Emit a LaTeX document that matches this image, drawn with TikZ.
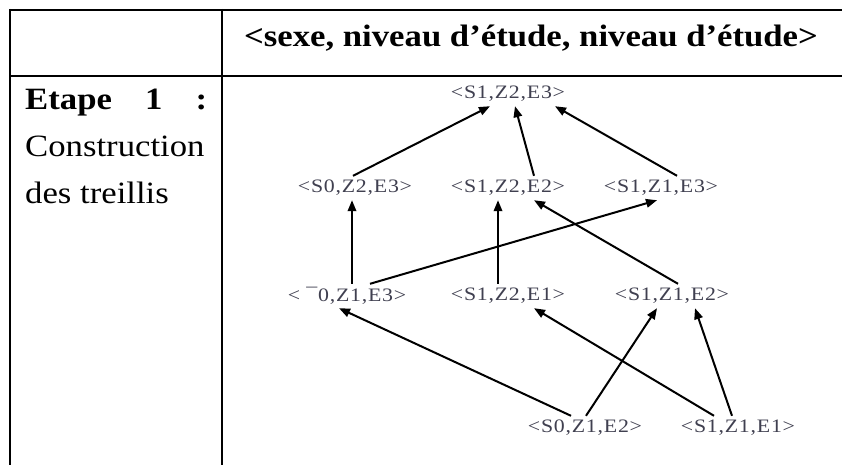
\documentclass[tikz,border=0pt]{standalone}
\usepackage{fontspec}
\setmainfont{Liberation Serif}
\newfontfamily\cellfont[FakeStretch=1.12]{Liberation Serif}
\newfontfamily\latfont[FakeStretch=1.15,LetterSpace=4]{Liberation Serif}
\usetikzlibrary{arrows.meta,positioning}
\definecolor{latgrey}{HTML}{404050}

\begin{document}
\begin{tikzpicture}[x=1pt,y=-1pt,
  nd/.style={font=\latfont\fontsize{19}{19}\selectfont,text=latgrey,
             inner sep=0pt,minimum height=24pt},
  ar/.style={-{Triangle[length=11pt,width=8.5pt]},line width=2pt},
  cl/.style={font=\cellfont\fontsize{31}{31}\selectfont,inner sep=0pt},
  frm/.style={line width=2pt}
]
\useasboundingbox (0,0) rectangle (842,465);

% table frame
\draw[frm] (9,10) -- (842,10);
\draw[frm] (9,76) -- (842,76);
\draw[frm] (10,9) -- (10,465);
\draw[frm] (222,9) -- (222,465);

% cells
\node[cl] (head) at (531,38) {\bfseries <sexe, niveau d’étude, niveau d’étude>};
\node[cl,text width=182pt,anchor=west] (etape) at (25,103) {\bfseries Etape\hfill 1\hfill :};
\node[cl,anchor=west] (constr) at (25,146) {Construction};
\node[cl,anchor=west] (treil) at (25,193) {des treillis};

% lattice
\node[nd] (s1z2e3) at (508,94) {<S1,Z2,E3>};
\node[nd] (s1z2e2) at (508,188) {<S1,Z2,E2>};
\node[nd,on grid,left=153pt of s1z2e2] (s0z2e3) {<S0,Z2,E3>};
\node[nd,on grid,right=153pt of s1z2e2] (s1z1e3) {<S1,Z1,E3>};
\node[nd] (s1z2e1) at (508,296) {<S1,Z2,E1>};
\node[nd,on grid,left=161pt of s1z2e1] (s0z1e3) {< ¯0,Z1,E3>};
\node[nd,on grid,right=164pt of s1z2e1] (s1z1e2) {<S1,Z1,E2>};
\node[nd] (s0z1e2) at (585,428) {<S0,Z1,E2>};
\node[nd,on grid,right=153pt of s0z1e2] (s1z1e1) {<S1,Z1,E1>};

\draw[ar] ([xshift=-2pt]s0z2e3.north) -- ([xshift=-18pt]s1z2e3.south);
\draw[ar] ([xshift=26pt]s1z2e2.north) -- ([xshift=7pt]s1z2e3.south);
\draw[ar] ([xshift=16pt]s1z1e3.north) -- ([xshift=47pt]s1z2e3.south);
\draw[ar] ([xshift=5pt]s0z1e3.north) -- ([xshift=-3pt]s0z2e3.south);
\draw[ar] ([xshift=23pt]s0z1e3.north) -- ([xshift=-4pt]s1z1e3.south);
\draw[ar] ([xshift=-10pt]s1z2e1.north) -- ([xshift=-10pt]s1z2e2.south);
\draw[ar] ([xshift=6pt]s1z1e2.north) -- ([xshift=26pt]s1z2e2.south);
\draw[ar] ([xshift=-14pt]s0z1e2.north) -- ([xshift=-8pt]s0z1e3.south);
\draw[ar] ([xshift=1pt]s0z1e2.north) -- ([xshift=-15pt]s1z1e2.south);
\draw[ar] ([xshift=-24pt]s1z1e1.north) -- ([xshift=26pt]s1z2e1.south);
\draw[ar] ([xshift=-6pt]s1z1e1.north) -- ([xshift=23pt]s1z1e2.south);
\end{tikzpicture}
\end{document}
